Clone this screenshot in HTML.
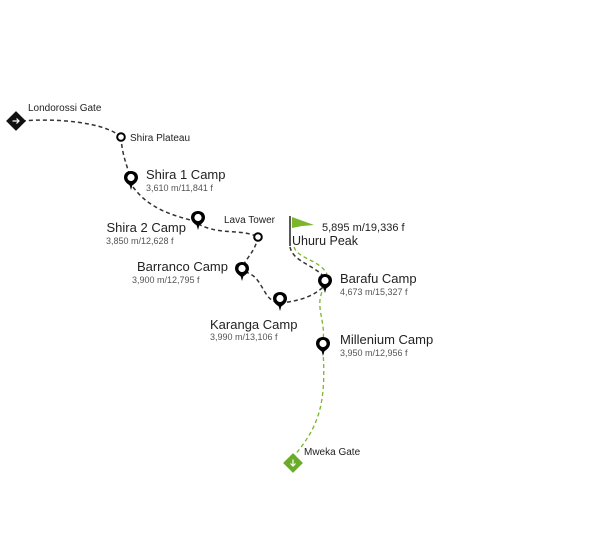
<!DOCTYPE html>
<html><head><meta charset="utf-8"><style>
html,body{margin:0;padding:0;background:#fff;width:600px;height:540px;overflow:hidden}
svg text{font-family:"Liberation Sans",sans-serif;fill:#222}
.t{font-size:13px}
.s{font-size:9px;fill:#555}
.l{font-size:10px}
</style></head><body>
<svg width="600" height="540" viewBox="0 0 600 540" xmlns="http://www.w3.org/2000/svg">
<defs>
<g id="pin"><path d="M0,0 C-4,-2 -7,-5 -7,-8.5 C-7,-12.5 -4,-15 0,-15 C4,-15 7,-12.5 7,-8.5 C7,-5 4,-2 0,0 Z" fill="#000"/><path d="M-2,-3 L0,4 L2,-3Z" fill="#000"/><circle cx="0" cy="-8.5" r="3.6" fill="#fff"/></g>
</defs>
<g fill="none" stroke="#333" stroke-width="1.5" stroke-dasharray="4,3">
<path d="M22,121 C55,118 105,122 121,137"/>
<path d="M121,137 C122,155 127,165 131,180"/>
<path d="M133,187 C150,210 175,216 198,222"/>
<path d="M198,224 C222,236 240,228 258,237"/>
<path d="M258,237 C255,252 246,258 242,268"/>
<path d="M245,272 C264,276 262,302 280,303"/>
<path d="M280,303 C300,301 315,296 325,285"/>
<path d="M290,247 C293,262 315,265 325,278"/>
</g>
<g fill="none" stroke="#7ab52a" stroke-width="1.3" stroke-dasharray="4,3">
<path d="M294,247 C298,259 320,260 327,274"/>
<path d="M325,286 C313,305 326,320 323,340"/>
<path d="M323,350 C326,400 321,425 293,457"/>
</g>
<rect x="9" y="114" width="14" height="14" transform="rotate(45 16 121)" fill="#111"/>
<path d="M12.5,121 L19,121 M16.5,118.5 L19,121 L16.5,123.5" stroke="#fff" stroke-width="1.2" fill="none"/>
<rect x="286" y="456" width="14" height="14" transform="rotate(45 293 463)" fill="#6aab2a"/>
<path d="M293,459.5 L293,466 M290.5,463.5 L293,466 L295.5,463.5" stroke="#fff" stroke-width="1.2" fill="none"/>
<circle cx="121" cy="137" r="3.8" fill="#fff" stroke="#000" stroke-width="2"/>
<circle cx="258" cy="237" r="3.8" fill="#fff" stroke="#000" stroke-width="2"/>
<use href="#pin" x="131" y="186"/>
<use href="#pin" x="198" y="226"/>
<use href="#pin" x="242" y="277"/>
<use href="#pin" x="280" y="307"/>
<use href="#pin" x="325" y="289"/>
<use href="#pin" x="323" y="352"/>
<line x1="290" y1="216" x2="290" y2="246" stroke="#222" stroke-width="1.5"/>
<path d="M292,217 L314,225 L302,226 L292,228 Z" fill="#7ab52a"/>
<text class="l" x="28" y="111">Londorossi Gate</text>
<text class="l" x="130" y="141">Shira Plateau</text>
<text class="t" x="146" y="179">Shira 1 Camp</text>
<text class="s" x="146" y="191">3,610 m/11,841 f</text>
<text class="t" x="186" y="232" text-anchor="end">Shira 2 Camp</text>
<text class="s" x="106" y="244">3,850 m/12,628 f</text>
<text class="l" x="224" y="223">Lava Tower</text>
<text class="t" x="228" y="271" text-anchor="end">Barranco Camp</text>
<text class="s" x="132" y="283">3,900 m/12,795 f</text>
<text class="t" x="210" y="329">Karanga Camp</text>
<text class="s" x="210" y="340">3,990 m/13,106 f</text>
<text class="t" x="340" y="283">Barafu Camp</text>
<text class="s" x="340" y="295">4,673 m/15,327 f</text>
<text class="t" x="340" y="344">Millenium Camp</text>
<text class="s" x="340" y="356">3,950 m/12,956 f</text>
<text class="l" x="304" y="455">Mweka Gate</text>
<text x="322" y="231" font-size="11">5,895 m/19,336 f</text>
<text x="292" y="245" font-size="12.5">Uhuru Peak</text>
</svg>
</body></html>
